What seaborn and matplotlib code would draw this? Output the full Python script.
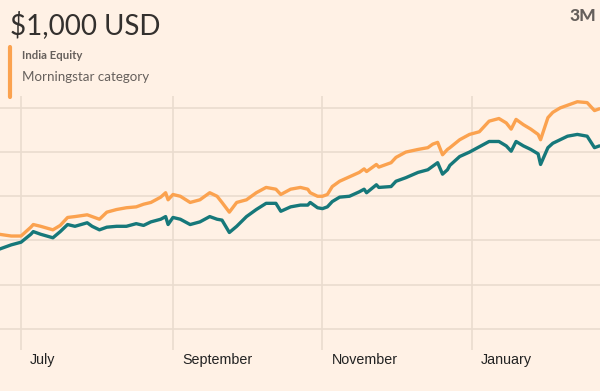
import pandas as pd
import matplotlib
matplotlib.use("Agg")
import matplotlib.pyplot as plt
import matplotlib.transforms as mtransforms
from matplotlib.lines import Line2D
import seaborn as sns

# datas de observação (jun/2019 - fev/2020)
datas = [
    "2019-06-22", "2019-06-27", "2019-07-01", "2019-07-05", "2019-07-06", "2019-07-09",
    "2019-07-14", "2019-07-17", "2019-07-20", "2019-07-23", "2019-07-28", "2019-07-30",
    "2019-08-02", "2019-08-05", "2019-08-09", "2019-08-13", "2019-08-17", "2019-08-20",
    "2019-08-23", "2019-08-27", "2019-08-29", "2019-08-30", "2019-09-01", "2019-09-04",
    "2019-09-08", "2019-09-12", "2019-09-16", "2019-09-19", "2019-09-21", "2019-09-24",
    "2019-09-27", "2019-10-01", "2019-10-05", "2019-10-09", "2019-10-13", "2019-10-15",
    "2019-10-19", "2019-10-23", "2019-10-26", "2019-10-27", "2019-10-30", "2019-11-01",
    "2019-11-03", "2019-11-05", "2019-11-08", "2019-11-12", "2019-11-16", "2019-11-18",
    "2019-11-19", "2019-11-23", "2019-11-24", "2019-11-29", "2019-12-01", "2019-12-05",
    "2019-12-10", "2019-12-14", "2019-12-16", "2019-12-18", "2019-12-20", "2019-12-22",
    "2019-12-23", "2019-12-27", "2019-12-31", "2020-01-04", "2020-01-08", "2020-01-12",
    "2020-01-15", "2020-01-17", "2020-01-19", "2020-01-22", "2020-01-25", "2020-01-28",
    "2020-01-29", "2020-02-01", "2020-02-03", "2020-02-06", "2020-02-09", "2020-02-13",
    "2020-02-17", "2020-02-20", "2020-02-22",
]

# categoria Morningstar (laranja)
categoria = [
    1007, 1005, 1005, 1015, 1018, 1016, 1012, 1017, 1026, 1027, 1029, 1027,
    1024, 1032, 1035, 1037, 1038, 1041, 1043, 1049, 1054, 1046, 1052, 1050,
    1043, 1046, 1054, 1050, 1043, 1032, 1043, 1046, 1054, 1060, 1058, 1052,
    1058, 1060, 1058, 1054, 1050, 1050, 1052, 1061, 1067, 1072, 1077, 1081,
    1078, 1086, 1083, 1088, 1094, 1100, 1103, 1105, 1109, 1111, 1097, 1103,
    1105, 1114, 1120, 1123, 1135, 1138, 1133, 1126, 1137, 1131, 1126, 1120,
    1114, 1139, 1145, 1150, 1153, 1157, 1156, 1147, 1149,
]

# fundo (verde-azulado)
fundo = [
    990, 995, 998, 1007, 1010, 1007, 1003, 1010, 1018, 1016, 1020, 1016,
    1012, 1015, 1016, 1016, 1019, 1017, 1021, 1024, 1027, 1018, 1026, 1024,
    1018, 1021, 1027, 1024, 1023, 1009, 1016, 1027, 1035, 1042, 1042, 1033,
    1038, 1040, 1040, 1043, 1037, 1036, 1038, 1044, 1049, 1050, 1055, 1058,
    1054, 1063, 1060, 1061, 1067, 1071, 1077, 1080, 1084, 1088, 1075, 1080,
    1085, 1095, 1100, 1106, 1112, 1112, 1107, 1101, 1112, 1107, 1103, 1098,
    1086, 1105, 1110, 1114, 1118, 1120, 1118, 1105, 1107,
]

niveis_y = [900, 950, 1000, 1050, 1100, 1150]
meses = ["2019-07-01", "2019-09-01", "2019-11-01", "2020-01-01"]
nomes_meses = ["July", "September", "November", "January"]

df = pd.DataFrame({
    "data": pd.to_datetime(datas * 2),
    "valor": categoria + fundo,
    "serie": ["Morningstar category"] * len(datas) + ["Fund"] * len(datas),
})

fundo_cor = "#FFF1E5"
cor_grade = "#EADCCF"
cores = {"Morningstar category": "#FBA24F", "Fund": "#16787A"}

sns.set_style("white")
plt.rcParams["font.family"] = ["Liberation Sans", "DejaVu Sans"]

fig = plt.figure(figsize=(6, 3.91), dpi=100, facecolor=fundo_cor)
ax = fig.add_axes([0, 0.1049, 1, 0.6496])
ax.set_facecolor(fundo_cor)

sns.lineplot(data=df, x="data", y="valor", hue="serie", palette=cores,
             linewidth=2.4, legend=False, ax=ax, zorder=3)

ax.set_xlim(pd.Timestamp("2019-06-22 10:00"), pd.Timestamp("2020-02-22 06:00"))
ax.set_ylim(876, 1163.5)
ax.set_yticks(niveis_y)
ax.set_yticklabels([])
ax.set_xticks(pd.to_datetime(meses))
ax.set_xticklabels(nomes_meses)
ax.grid(True, color=cor_grade, linewidth=1.2, zorder=0)
ax.tick_params(length=0, labelsize=10.3, labelcolor="#222222", pad=2.5)
for lbl in ax.get_xticklabels():
    lbl.set_horizontalalignment("left")
    lbl.set_transform(lbl.get_transform() +
                      mtransforms.ScaledTranslation(0.09, 0, fig.dpi_scale_trans))
for s in ax.spines.values():
    s.set_visible(False)
ax.set_xlabel("")
ax.set_ylabel("")

# títulos e legenda
fig.text(0.016, 0.935, "$1,000 USD", fontsize=20, color="#33302E",
         family=["Lato", "DejaVu Sans"], va="center", ha="left")
fig.text(0.993, 0.958, "3M", fontsize=12.5, color="#66605C", fontweight=900,
         family=["Lato", "DejaVu Sans"], va="center", ha="right")
fig.text(0.036, 0.859, "India Equity", fontsize=8.2, color="#66605C", fontweight="bold",
         family=["Lato", "DejaVu Sans"], va="center", ha="left")
fig.text(0.036, 0.802, "Morningstar category", fontsize=9.6, color="#66605C",
         family=["Lato", "DejaVu Sans"], va="center", ha="left")
fig.add_artist(Line2D([0.016, 0.016], [0.752, 0.880], color="#FBA24F",
                      linewidth=3, transform=fig.transFigure))

fig.savefig("out.png", dpi=100, facecolor=fundo_cor)
